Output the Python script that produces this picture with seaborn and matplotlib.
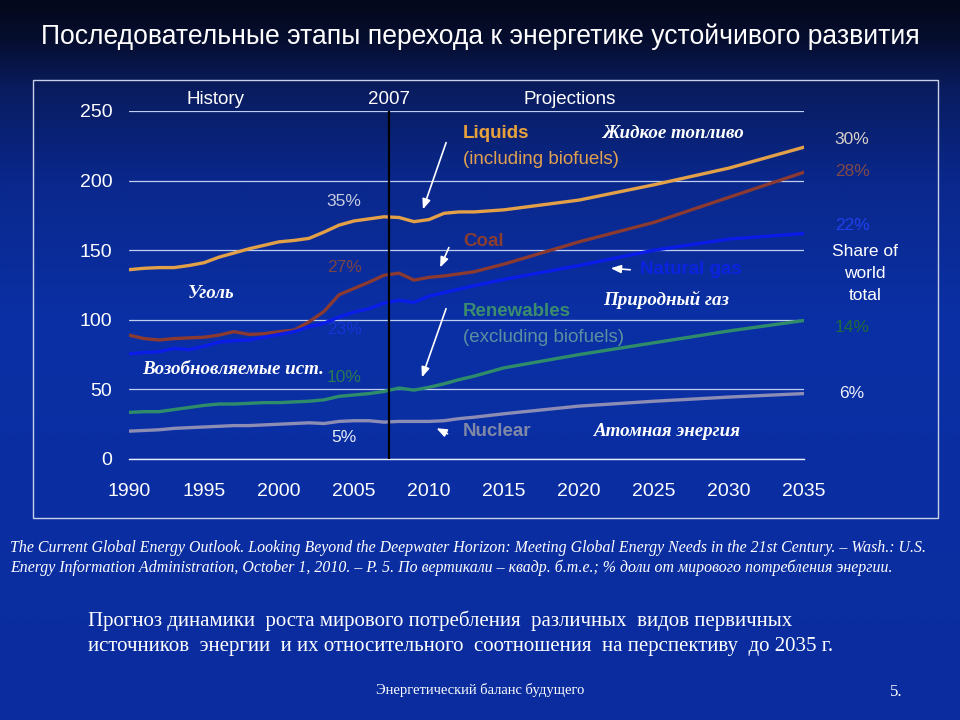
import numpy as np
import pandas as pd
import matplotlib
matplotlib.use("Agg")
import matplotlib.pyplot as plt
import seaborn as sns
from matplotlib.patches import Rectangle

# ---------------- data (quadrillion Btu) ----------------
years = list(range(1990, 2014)) + [2015, 2020, 2025, 2030, 2035]
liquids = [136, 137, 137.5, 137.5, 139, 141, 145, 148, 151, 153.5, 156, 157, 158.5, 163,
           168, 171, 172.5, 174, 173.5, 170.5, 172, 176.5, 177.5, 177.5,
           179, 186, 197, 209, 224]
coal = [89, 86.5, 85.5, 86.5, 87, 87.5, 89, 91.5, 89.5, 90, 91.5, 92.5, 98.5, 106,
        118, 122.5, 127, 132, 133.5, 128.5, 130.5, 131.5, 133, 134.5,
        140, 156, 170, 188, 206]
natural_gas = [75.5, 76.5, 77, 79.5, 78.5, 81, 84, 85, 85.5, 87.5, 89.5, 91.5, 95, 97.5,
               102, 105.5, 108, 112, 114, 112.5, 117, 119.5, 122, 124.5,
               129, 139, 150, 158, 162]
renewables = [33.5, 34, 34, 35.5, 37, 38.5, 39.5, 39.5, 40, 40.5, 40.5, 41, 41.5, 42.5,
              45, 46, 47, 48.5, 51, 49.5, 51.5, 54, 57, 59.5,
              65.5, 75, 83.5, 92, 99.5]
nuclear = [20, 20.5, 21, 22, 22.5, 23, 23.5, 24, 24, 24.5, 25, 25.5, 26, 25.5,
           27, 27.5, 27.5, 26.5, 27, 27, 27, 27.5, 29, 30,
           32.5, 38, 41.5, 44.5, 47]
series_names = ["Liquids", "Coal", "Natural gas", "Renewables", "Nuclear"]
share_2007 = ["35%", "27%", "23%", "10%", "5%"]
share_2035 = ["30%", "28%", "22%", "14%", "6%"]
y_ticks = [0, 50, 100, 150, 200, 250]
x_ticks = [1990, 1995, 2000, 2005, 2010, 2015, 2020, 2025, 2030, 2035]

line_colors = ["#E2A048", "#8A3A30", "#0A1CE8", "#2F8C6A", "#8C8CB4"]

df = pd.DataFrame({
    "year": years * 5,
    "value": liquids + coal + natural_gas + renewables + nuclear,
    "source": sum([[n] * len(years) for n in series_names], []),
})

# ---------------- style ----------------
sns.set_theme(style="white")
plt.rcParams["font.family"] = ["Liberation Sans", "DejaVu Sans"]

W, H = 960, 720
fig = plt.figure(figsize=(9.6, 7.2), dpi=100)

# background gradient
bg = fig.add_axes([0, 0, 1, 1], zorder=0)
bg.set_xlim(0, W)
bg.set_ylim(H, 0)
bg.axis("off")
ys = np.arange(H)
stops_y = [0, 40, 90, 180, 320, 720]
stops_c = np.array([[4, 8, 26], [6, 14, 48], [9, 28, 95], [10, 40, 140],
                    [10, 48, 165], [10, 44, 158]]) / 255.0
grad = np.stack([np.interp(ys, stops_y, stops_c[:, k]) for k in range(3)], axis=1)
img = np.repeat(grad[:, None, :], 8, axis=1)
bg.imshow(img, extent=[0, W, H, 0], aspect="auto", interpolation="bilinear")
bg.add_patch(Rectangle((33, 80), 905, 438, fill=False, edgecolor="#c8d0e8", lw=1.0))

# main axes
L, R, T, B = 129, 804, 111, 459
ax = fig.add_axes([L / W, 1 - B / H, (R - L) / W, (B - T) / H], zorder=2)
ax.set_facecolor("none")
sns.lineplot(data=df, x="year", y="value", hue="source", hue_order=series_names,
             palette=line_colors, linewidth=2.4, legend=False, ax=ax, zorder=3)
ax.set_xlim(1990, 2035)
ax.set_ylim(0, 250)
ax.set_xticks(x_ticks)
ax.set_yticks(y_ticks)
ax.set_xlabel("")
ax.set_ylabel("")
ax.yaxis.grid(True, color="#c0cef0", lw=0.9)
ax.xaxis.grid(False)
for s in ["top", "right", "left"]:
    ax.spines[s].set_visible(False)
ax.spines["bottom"].set_color("#e8eefc")
ax.spines["bottom"].set_linewidth(1.0)
ax.tick_params(axis="x", direction="in", length=6, width=1, color="#e8eefc",
               labelcolor="white", labelsize=14, pad=17)
ax.tick_params(axis="y", length=0, labelcolor="white", labelsize=14, pad=12)
ax.axvline(2007.3, color="black", lw=1.6, zorder=4)

# overlay for texts
ov = fig.add_axes([0, 0, 1, 1], zorder=5)
ov.set_xlim(0, W)
ov.set_ylim(H, 0)
ov.axis("off")
ov.patch.set_alpha(0)

def t(x, y, s, **kw):
    kw.setdefault("va", "center")
    ov.text(x, y, s, **kw)

serif = ["Liberation Serif", "DejaVu Serif"]

t(480, 37, "Последовательные этапы перехода к энергетике устойчивого развития",
  ha="center", color="white", fontsize=19.1)

t(216, 99, "History", ha="center", color="white", fontsize=13.5)
t(389, 99, "2007", ha="center", color="white", fontsize=13.5)
t(570, 99, "Projections", ha="center", color="white", fontsize=13.5)

t(463, 134, "Liquids", color="#E8A23C", fontsize=13.5, weight="bold")
t(463, 159, "(including biofuels)", color="#E0A050", fontsize=13.5)
t(463, 241, "Coal", color="#8B3E2F", fontsize=13.5, weight="bold")
t(640, 270, "Natural gas", color="#0A24E0", fontsize=13.5, weight="bold")
t(463, 311, "Renewables", color="#3C8C6E", fontsize=13.5, weight="bold")
t(463, 337, "(excluding biofuels)", color="#5A90A0", fontsize=13.5)
t(463, 431, "Nuclear", color="#8088A8", fontsize=13.5, weight="bold")

rus = dict(color="white", fontsize=13.7, style="italic", weight="bold", family=serif)
t(602, 134, "Жидкое топливо", **rus)
t(603, 300, "Природный газ", **rus)
t(188, 294, "Уголь", **rus)
t(142, 370, "Возобновляемые ист.", **rus)
t(594, 431, "Атомная энергия", **rus)

left_cols = ["#c8cce0", "#7a4444", "#1434d8", "#2a7a50", "#e8ecf8"]
left_y = [202, 267, 330, 378, 437]
for s, c, y in zip(share_2007, left_cols, left_y):
    t(344, y, s, ha="center", color=c, fontsize=12.5)
right_cols = ["#d8d0c8", "#804848", "#2040f0", "#1f6a3a", "#f0f0f8"]
right_y = [140, 171, 226, 327, 394]
for s, c, y in zip(share_2035, right_cols, right_y):
    t(852, y, s, ha="center", color=c, fontsize=12.5)
for s, y in zip(["Share of", "world", "total"], [252, 274, 296]):
    t(865, y, s, ha="center", color="white", fontsize=12.5)

arrow = dict(arrowstyle="-|>,head_length=0.5,head_width=0.2", color="white", lw=1.2)
for (x0, y0), (x1, y1) in [((447, 140), (422, 212)), ((450, 245), (439, 270)),
                           ((633, 270), (608, 268)), ((447, 306), (421, 380)),
                           ((450, 435), (434, 427))]:
    ov.annotate("", xy=(x1, y1), xytext=(x0, y0), arrowprops=arrow)

foot = dict(color="white", fontsize=11.4, style="italic", family=serif)
t(10, 548, "The Current Global Energy Outlook. Looking Beyond the Deepwater Horizon: "
  "Meeting Global Energy Needs in the 21st Century. – Wash.: U.S.", **foot)
t(10, 568, "Energy Information Administration, October 1, 2010. – P. 5. По вертикали – "
  "квадр. б.т.е.; % доли от мирового потребления энергии.", **foot)

body = dict(color="white", fontsize=15, family=serif)
t(88, 621, "Прогноз динамики  роста мирового потребления  различных  видов первичных", **body)
t(88, 646, "источников  энергии  и их относительного  соотношения  на перспективу  до 2035 г.", **body)
t(480, 690, "Энергетический баланс будущего", ha="center", color="white", fontsize=10.5,
  family=serif)
t(896, 692, "5.", ha="center", color="white", fontsize=12, family=serif)

fig.savefig("out.png", dpi=100)
